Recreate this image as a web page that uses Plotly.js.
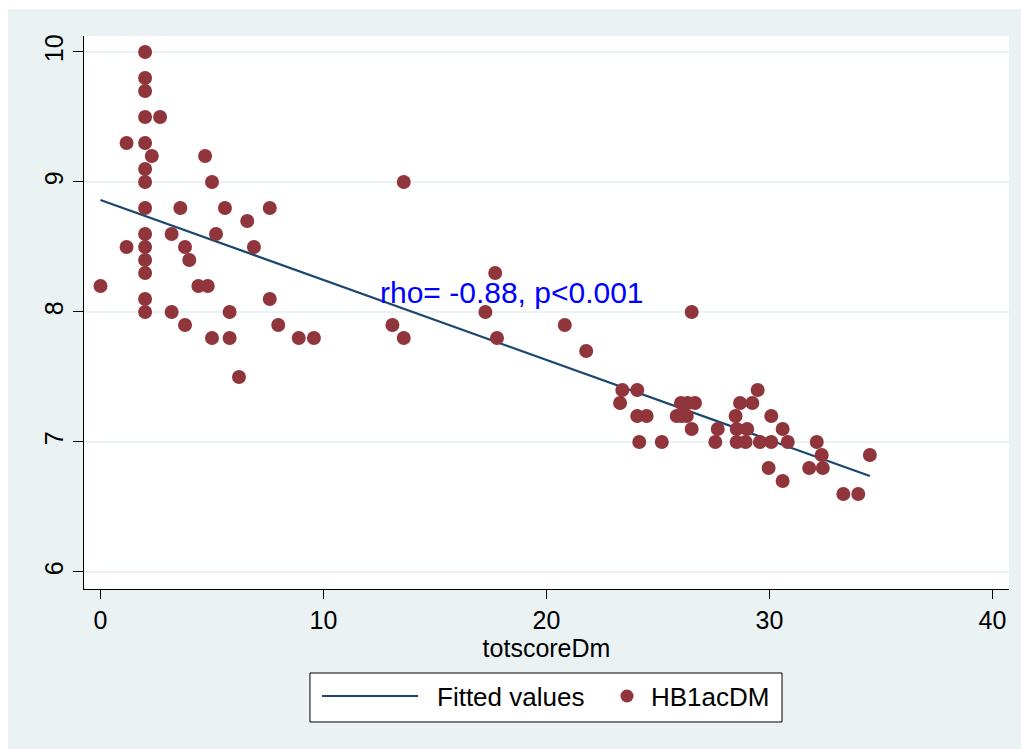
<!DOCTYPE html>
<html>
<head>
<meta charset="utf-8">
<script src="https://cdn.plot.ly/plotly-3.0.1.min.js"></script>
<style>
  html, body { margin: 0; padding: 0; background: #ffffff; }
  #chart { width: 1021px; height: 749px; }
</style>
</head>
<body>
<div id="chart"></div>
<script>
// HB1acDM vs totscoreDm
const totscoreDm = [
  0, 1.17, 1.17,
  2, 2, 2, 2, 2, 2, 2, 2, 2, 2, 2, 2, 2, 2,
  2.67, 2.3, 4.69, 5.0, 3.58, 5.58, 7.59, 6.58, 3.19, 5.18, 3.79, 6.88, 3.98,
  4.39, 4.81, 7.59, 3.19, 5.79, 3.79, 5.0, 5.79, 7.97, 8.89, 9.57, 6.21,
  13.6, 17.7, 17.26, 13.09, 13.6, 17.78,
  20.82, 26.51, 21.78, 23.4, 24.07, 23.3, 24.07, 24.49, 24.16, 25.17,
  26.03, 26.33, 26.66, 25.84, 26.06, 26.29,
  26.51, 27.68, 27.57, 28.68, 29.23, 29.47, 28.48, 28.53, 29.0, 28.53, 28.93, 29.57,
  30.08, 30.08, 29.96, 30.59, 30.82, 30.59, 32.12, 32.34, 31.78, 32.39,
  33.31, 33.98, 34.5
];
const HB1acDM = [
  8.2, 9.3, 8.5,
  10, 9.8, 9.7, 9.5, 9.3, 9.1, 9.0, 8.8, 8.6, 8.5, 8.4, 8.3, 8.1, 8.0,
  9.5, 9.2, 9.2, 9.0, 8.8, 8.8, 8.8, 8.7, 8.6, 8.6, 8.5, 8.5, 8.4,
  8.2, 8.2, 8.1, 8.0, 8.0, 7.9, 7.8, 7.8, 7.9, 7.8, 7.8, 7.5,
  9.0, 8.3, 8.0, 7.9, 7.8, 7.8,
  7.9, 8.0, 7.7, 7.4, 7.4, 7.3, 7.2, 7.2, 7.0, 7.0,
  7.3, 7.3, 7.3, 7.2, 7.2, 7.2,
  7.1, 7.1, 7.0, 7.3, 7.3, 7.4, 7.2, 7.1, 7.1, 7.0, 7.0, 7.0,
  7.2, 7.0, 6.8, 7.1, 7.0, 6.7, 7.0, 6.9, 6.8, 6.8,
  6.6, 6.6, 6.9
];
// Fitted values (linear fit) endpoints
const fitX = [0, 34.5];
const fitY = [8.862, 6.738];

const xTicks = [0, 10, 20, 30, 40];
const yTicks = [6, 7, 8, 9, 10];
const seriesNames = ["Fitted values", "HB1acDM"];
const annotText = "rho= -0.88, p<0.001";

const FONT = "Liberation Sans, Arial, sans-serif";
const BG = "#EAF2F3";
const LINE_COLOR = "#1A476F";
const DOT_COLOR = "#90353B";

const traces = [
  {
    x: fitX, y: fitY, type: "scatter", mode: "lines",
    name: seriesNames[0], showlegend: false,
    line: { color: LINE_COLOR, width: 2.2 }
  },
  {
    x: totscoreDm, y: HB1acDM, type: "scatter", mode: "markers",
    name: seriesNames[1], showlegend: false,
    marker: { color: DOT_COLOR, size: 14, line: { width: 0 } }
  }
];

// Legend (Stata style) drawn in paper coordinates
const legendShapes = [
  { type: "rect", xref: "paper", yref: "paper", layer: "above",
    x0: 0.2443, x1: 0.7546, y0: -0.2405, y1: -0.1519,
    fillcolor: "#ffffff", line: { color: "#000000", width: 1 } },
  { type: "line", xref: "paper", yref: "paper", layer: "above",
    x0: 0.2573, x1: 0.3611, y0: -0.1935, y1: -0.1935,
    line: { color: LINE_COLOR, width: 2.2 } },
  { type: "circle", xref: "paper", yref: "paper", layer: "above",
    x0: 0.5800, x1: 0.5941, y0: -0.2052, y1: -0.1817,
    fillcolor: DOT_COLOR, line: { width: 0 } }
];
const legendLabels = [
  { xref: "paper", yref: "paper", x: 0.3795, y: -0.1953, text: seriesNames[0],
    showarrow: false, xanchor: "left", yanchor: "middle",
    font: { family: FONT, size: 26, color: "#000000" } },
  { xref: "paper", yref: "paper", x: 0.6108, y: -0.1953, text: seriesNames[1],
    showarrow: false, xanchor: "left", yanchor: "middle",
    font: { family: FONT, size: 26, color: "#000000" } }
];

const layout = {
  width: 1021, height: 749,
  margin: { l: 84, r: 12, t: 36, b: 160, pad: 0 },
  paper_bgcolor: "#ffffff",
  plot_bgcolor: "#ffffff",
  font: { family: FONT, size: 25, color: "#000000" },
  showlegend: false,
  xaxis: {
    range: [-0.74, 40.74],
    tickmode: "array", tickvals: xTicks, ticktext: xTicks.map(String),
    ticks: "outside", ticklen: 9, tickwidth: 1, tickcolor: "#000000",
    showline: true, linecolor: "#000000", linewidth: 1,
    showgrid: false, zeroline: false,
    tickfont: { family: FONT, size: 25, color: "#000000" },
    title: { text: "totscoreDm", font: { family: FONT, size: 25, color: "#000000" }, standoff: 2 },
    automargin: false
  },
  yaxis: {
    range: [5.869, 10.123],
    tickmode: "array", tickvals: yTicks, ticktext: yTicks.map(String),
    tickangle: -90,
    ticks: "outside", ticklen: 10, tickwidth: 1, tickcolor: "#000000",
    showline: true, linecolor: "#000000", linewidth: 1,
    showgrid: true, gridcolor: BG, gridwidth: 2,
    zeroline: false,
    tickfont: { family: FONT, size: 25, color: "#000000" },
    automargin: false
  },
  shapes: [
    { type: "rect", xref: "paper", yref: "paper", layer: "below",
      x0: -0.0822, x1: 1.02, y0: -0.30, y1: 1.0488,
      fillcolor: BG, line: { width: 0 } },
    { type: "rect", xref: "paper", yref: "paper", layer: "below",
      x0: 0, x1: 1, y0: 0, y1: 1,
      fillcolor: "#ffffff", line: { width: 0 } }
  ].concat(legendShapes),
  annotations: [
    { x: 12.44, y: 8.15, xref: "x", yref: "y",
      text: annotText, showarrow: false,
      xanchor: "left", yanchor: "middle",
      font: { family: FONT, size: 30, color: "#0000FF" } }
  ].concat(legendLabels)
};

Plotly.newPlot("chart", traces, layout, { displayModeBar: false, staticPlot: true });
</script>
</body>
</html>
